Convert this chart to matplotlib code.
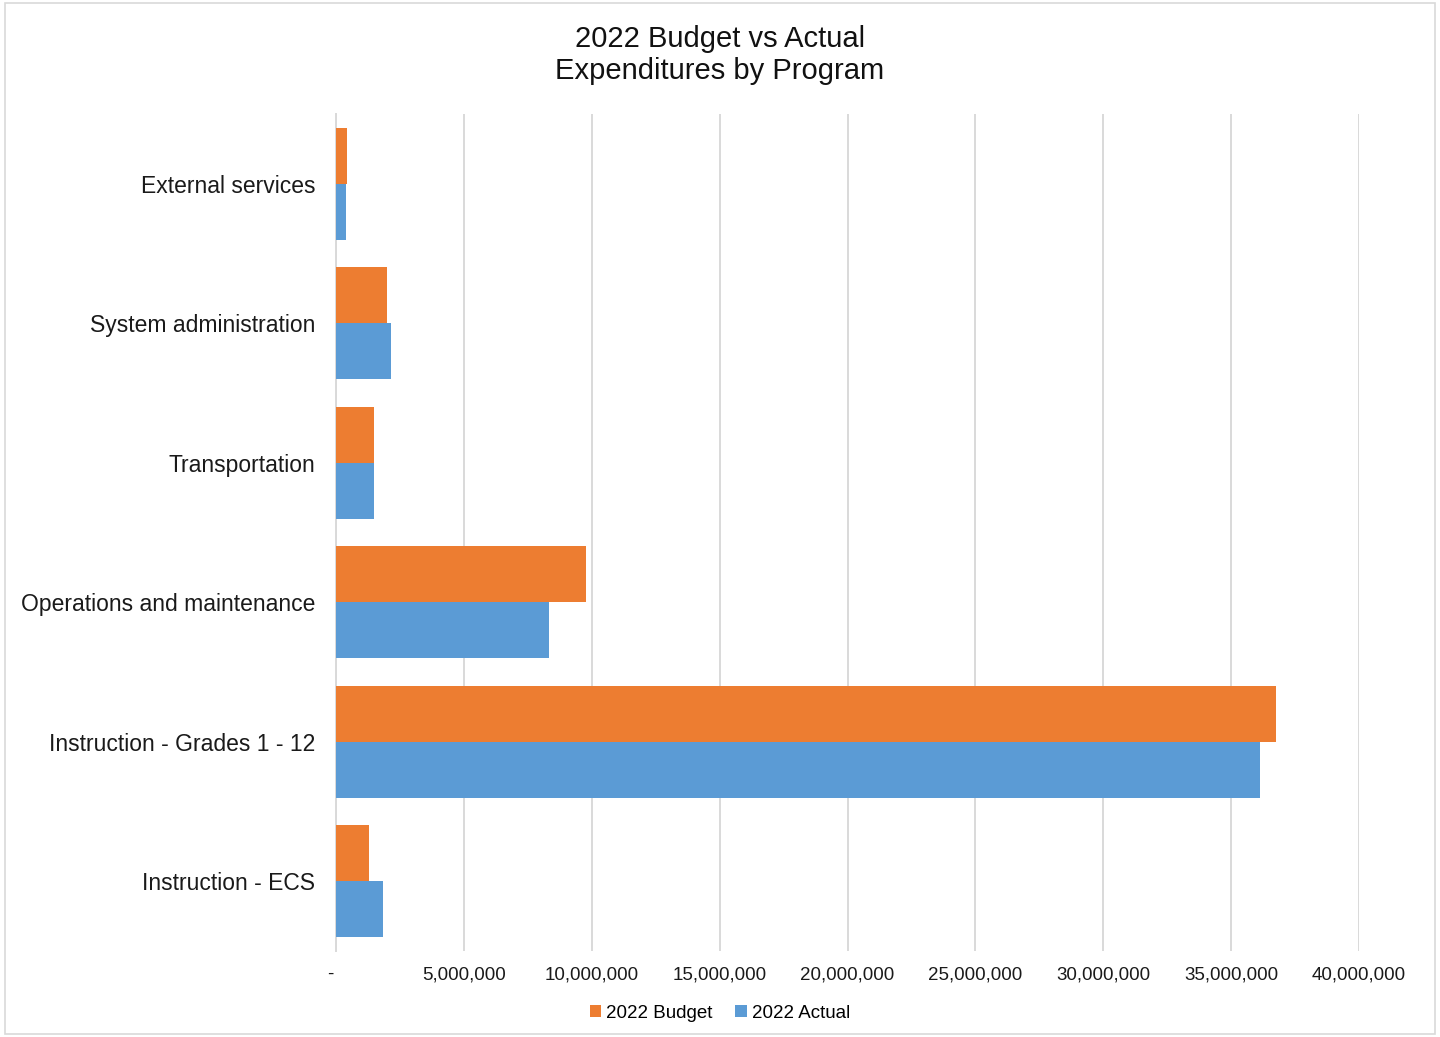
"""2022 budget vs actual expenditures by program, horizontal grouped bars."""

import matplotlib

matplotlib.use("Agg")
import matplotlib.pyplot as plt
from matplotlib.patches import Rectangle
from matplotlib.ticker import FuncFormatter

plt.rcParams["font.family"] = ["Liberation Sans", "DejaVu Sans"]

# bottom to top, as drawn on the y axis
programs = [
    "Instruction - ECS",
    "Instruction - Grades 1 - 12",
    "Operations and maintenance",
    "Transportation",
    "System administration",
    "External services",
]
budget_2022 = [1_280_000, 36_760_000, 9_770_000, 1_470_000, 1_980_000, 440_000]
actual_2022 = [1_830_000, 36_130_000, 8_340_000, 1_470_000, 2_170_000, 400_000]
x_ticks = [0, 5_000_000, 10_000_000, 15_000_000, 20_000_000,
           25_000_000, 30_000_000, 35_000_000, 40_000_000]

ORANGE = "#ED7D31"
BLUE = "#5B9BD5"
GRID = "#D9D9D9"
BAR_H = 0.4


def _fmt(v, _pos):
    # accounting style: zero shows as a dash
    if v == 0:
        return "-  "
    return f"{v:,.0f}"


fig = plt.figure(figsize=(14.4, 10.37), dpi=100)
ax = fig.add_axes([336 / 1440, 1 - 951 / 1037, (1359 - 336) / 1440, (951 - 114) / 1037])

pos = list(range(len(programs)))
ax.barh([p + BAR_H / 2 for p in pos], budget_2022, height=BAR_H, color=ORANGE,
        label="2022 Budget", zorder=3)
ax.barh([p - BAR_H / 2 for p in pos], actual_2022, height=BAR_H, color=BLUE,
        label="2022 Actual", zorder=3)

ax.set_xlim(0, 40_000_000)
ax.set_ylim(-0.5, len(programs) - 0.5)
ax.set_yticks(pos)
ax.set_yticklabels(programs, fontsize=16.5, color="#1a1a1a")
ax.set_xticks(x_ticks)
ax.xaxis.set_major_formatter(FuncFormatter(_fmt))
ax.tick_params(axis="x", labelsize=13.5, length=0, pad=11, colors="#1a1a1a")
ax.tick_params(axis="y", length=0, pad=15)
ax.grid(axis="x", color=GRID, linewidth=1.4, zorder=0)
for side in ("top", "right", "bottom"):
    ax.spines[side].set_visible(False)
ax.spines["left"].set_color(GRID)
ax.spines["left"].set_linewidth(1.4)

fig.text(0.5, 1 - 55 / 1037, "2022 Budget vs Actual\nExpenditures by Program",
         ha="center", va="center", fontsize=21, color="#111111", linespacing=1.15)

fig.legend(loc="center", bbox_to_anchor=(0.5, 1 - 1013 / 1037), ncol=2, frameon=False,
           fontsize=13.5, handlelength=0.6, handleheight=0.6, handletextpad=0.3,
           columnspacing=1.2)

fig.patches.append(Rectangle((5 / 1440, 3 / 1037), 1430 / 1440, 1031 / 1037,
                             transform=fig.transFigure, fill=False,
                             edgecolor=GRID, linewidth=1.2))

fig.savefig("out.png", dpi=100)
